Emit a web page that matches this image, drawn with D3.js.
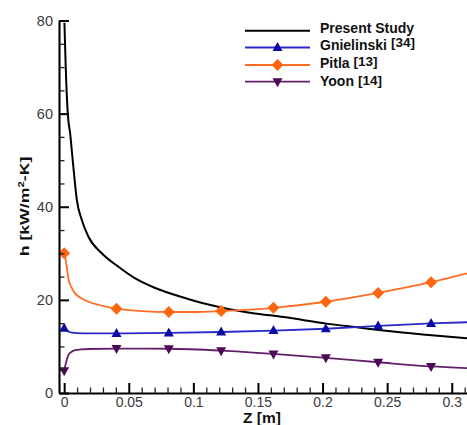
<!DOCTYPE html>
<html>
<head>
<meta charset="utf-8">
<script src="https://cdn.jsdelivr.net/npm/d3@7"></script>
<style>
  html, body { margin: 0; padding: 0; background: #fff; }
  svg { display: block; font-family: "Liberation Sans", Arial, sans-serif; }
</style>
</head>
<body>
<svg id="chart" width="467" height="425"></svg>
<script>
// ---- data ----
const presentZ = [0.0002, 0.0012, 0.0028, 0.0046, 0.0071, 0.0098, 0.0136, 0.0187, 0.0291, 0.042, 0.055, 0.07, 0.0923, 0.11, 0.128, 0.145, 0.17, 0.203, 0.2265, 0.247, 0.28, 0.3118];
const presentH = [79.5, 70, 60, 55.8, 48.6, 41.5, 37.2, 33.6, 30.0, 27.1, 24.6, 22.6, 20.5, 19.1, 18.0, 17.2, 16.3, 14.9, 14.1, 13.4, 12.5, 11.75];

const gnielinskiZ = [0, 0.002, 0.005, 0.01, 0.02, 0.0405, 0.081, 0.1215, 0.162, 0.2025, 0.243, 0.284, 0.3118];
const gnielinskiH = [13.9, 13.4, 13.0, 12.85, 12.8, 12.8, 12.9, 13.1, 13.4, 13.8, 14.4, 14.95, 15.2];

const pitlaZ = [0, 0.001, 0.002, 0.0033, 0.0055, 0.0084, 0.013, 0.0187, 0.027, 0.0405, 0.06, 0.081, 0.1, 0.1215, 0.162, 0.2025, 0.243, 0.284, 0.3118];
const pitlaH = [30, 28.8, 27.1, 24.5, 22.8, 21.4, 20.4, 19.6, 18.9, 18.1, 17.6, 17.4, 17.4, 17.6, 18.3, 19.6, 21.5, 23.8, 25.7];

const yoonZ = [0, 0.001, 0.002, 0.0033, 0.0055, 0.0084, 0.013, 0.019, 0.0405, 0.081, 0.1215, 0.162, 0.2025, 0.243, 0.284, 0.3118];
const yoonH = [4.8, 6.0, 7.1, 8.2, 8.8, 9.2, 9.35, 9.45, 9.55, 9.5, 9.1, 8.4, 7.55, 6.6, 5.7, 5.35];

// marker positions along Z and values at them
const markerZ = [0, 0.0405, 0.081, 0.1215, 0.162, 0.2025, 0.243, 0.284];
const gnielinskiM = [13.9, 12.8, 12.9, 13.1, 13.4, 13.8, 14.4, 14.95];
const pitlaM = [30, 18.1, 17.4, 17.6, 18.3, 19.6, 21.5, 23.8];
const yoonM = [4.8, 9.55, 9.5, 9.1, 8.4, 7.55, 6.6, 5.7];

const xTicks = [0, 0.05, 0.1, 0.15, 0.2, 0.25, 0.3];
const xTickLabels = ["0", "0.05", "0.1", "0.15", "0.2", "0.25", "0.3"];
const xMinorTicks = [0.01, 0.02, 0.03, 0.04, 0.06, 0.07, 0.08, 0.09, 0.11, 0.12, 0.13, 0.14, 0.16, 0.17, 0.18, 0.19, 0.21, 0.22, 0.23, 0.24, 0.26, 0.27, 0.28, 0.29, 0.31];
const yTicks = [0, 20, 40, 60, 80];
const yTickLabels = ["0", "20", "40", "60", "80"];
const yMinorTicks = [5, 10, 15, 25, 30, 35, 45, 50, 55, 65, 70, 75];

const legendNames = ["Present Study", "Gnielinski", "Pitla", "Yoon"];
const legendRefs = ["", "[34]", "[13]", "[14]"];

// ---- drawing ----
const svg = d3.select("#chart");
const pLeft = 59, pRight = 467, pTop = 20.5, pBottom = 393;

const x = d3.scaleLinear().domain([-0.004, 0.3118]).range([pLeft, pRight]);
const y = d3.scaleLinear().domain([0, 80]).range([pBottom, pTop]);

const series = [
  { z: presentZ, h: presentH, line: "#000000", mark: null, shape: null, width: 2 },
  { z: gnielinskiZ, h: gnielinskiH, mz: markerZ, mh: gnielinskiM, line: "#2a2ac8", mark: "#0b0ba6", shape: "up", width: 1.8 },
  { z: pitlaZ, h: pitlaH, mz: markerZ, mh: pitlaM, line: "#ff6d24", mark: "#ff6610", shape: "diamond", width: 1.8 },
  { z: yoonZ, h: yoonH, mz: markerZ, mh: yoonM, line: "#62206a", mark: "#4c0a56", shape: "down", width: 1.8 }
];

function markerPath(shape) {
  if (shape === "up") return "M0,-5.5L5,3.5L-5,3.5Z";
  if (shape === "down") return "M0,5.5L5,-3.5L-5,-3.5Z";
  if (shape === "diamond") return "M0,-6L6,0L0,6L-6,0Z";
  return "";
}

svg.append("defs").append("clipPath").attr("id", "plotclip")
  .append("rect").attr("x", pLeft).attr("y", 0).attr("width", pRight - pLeft).attr("height", pBottom);

const plot = svg.append("g").attr("clip-path", "url(#plotclip)");
const lineGen = d3.line().curve(d3.curveMonotoneX);

series.forEach(s => {
  const pts = s.z.map((z, i) => [x(z), y(s.h[i])]);
  plot.append("path")
    .attr("d", lineGen(pts))
    .attr("fill", "none")
    .attr("stroke", s.line)
    .attr("stroke-width", s.width);
  if (s.shape) {
    svg.append("g").selectAll("path")
      .data(s.mz.map((z, i) => [z, s.mh[i]]))
      .join("path")
      .attr("transform", d => `translate(${x(d[0])},${y(d[1])})`)
      .attr("d", markerPath(s.shape))
      .attr("fill", s.mark);
  }
});

// ---- axes (d3 axis generators, ticks pointing inward) ----
const labelColor = "#3a3a3a";

// minor ticks
svg.append("g").attr("transform", `translate(${pLeft},0)`)
  .call(d3.axisLeft(y).tickValues(yMinorTicks).tickSize(-5.5).tickFormat(""))
  .call(g => g.select(".domain").remove())
  .call(g => g.selectAll(".tick line").attr("stroke", "#222").attr("stroke-width", 1.3));
svg.append("g").attr("transform", `translate(0,${pBottom})`)
  .call(d3.axisBottom(x).tickValues(xMinorTicks).tickSize(-5.5).tickFormat(""))
  .call(g => g.select(".domain").remove())
  .call(g => g.selectAll(".tick line").attr("stroke", "#222").attr("stroke-width", 1.3));

// major ticks + labels
const yAxisG = svg.append("g").attr("transform", `translate(${pLeft},0)`)
  .call(d3.axisLeft(y).tickValues(yTicks).tickSize(-10).tickSizeOuter(0).tickPadding(6)
    .tickFormat((d, i) => yTickLabels[i]));
yAxisG.select(".domain").attr("stroke", "#000").attr("stroke-width", 2.1);
yAxisG.selectAll(".tick line").attr("stroke", "#000").attr("stroke-width", 2);
yAxisG.selectAll(".tick text").attr("font-size", 14.5).attr("fill", labelColor)
  .attr("font-family", "Liberation Sans, Arial, sans-serif").attr("dy", "0.34em");

const xAxisG = svg.append("g").attr("transform", `translate(0,${pBottom})`)
  .call(d3.axisBottom(x).tickValues(xTicks).tickSize(-10).tickSizeOuter(0).tickPadding(4)
    .tickFormat((d, i) => xTickLabels[i]));
xAxisG.select(".domain").attr("stroke", "#000").attr("stroke-width", 2.1);
xAxisG.selectAll(".tick line").attr("stroke", "#000").attr("stroke-width", 2);
xAxisG.selectAll(".tick text").attr("font-size", 14).attr("fill", labelColor)
  .attr("font-family", "Liberation Sans, Arial, sans-serif");

// axis titles
svg.append("text")
  .attr("x", (pLeft + pRight) / 2 - 1).attr("y", 422.8)
  .attr("text-anchor", "middle")
  .attr("font-size", 15.5).attr("font-weight", "bold").attr("fill", "#111")
  .text("Z [m]");

const yt = svg.append("text")
  .attr("transform", "translate(29,206.5) rotate(-90) scale(1.34,1)")
  .attr("text-anchor", "middle")
  .attr("font-size", 13.2).attr("font-weight", "bold").attr("fill", "#111");
yt.append("tspan").text("h [kW/m");
yt.append("tspan").attr("font-size", 8.5).attr("dy", -5).text("2");
yt.append("tspan").attr("dy", 5).text("-K]");

// legend
const legY = [30.7, 47.5, 65, 81.7];
const legBase = [32.5, 50, 67.5, 85.5];
const leg = svg.append("g");
series.forEach((s, i) => {
  leg.append("line").attr("x1", 245).attr("x2", 310)
    .attr("y1", legY[i]).attr("y2", legY[i])
    .attr("stroke", s.line).attr("stroke-width", s.width);
  if (s.shape) {
    leg.append("path").attr("transform", `translate(277.5,${legY[i]})`)
      .attr("d", markerPath(s.shape)).attr("fill", s.mark);
  }
  const t = leg.append("text").attr("x", 320).attr("y", legBase[i])
    .attr("font-size", 14).attr("font-weight", "bold").attr("fill", "#111");
  t.append("tspan").text(legendNames[i]);
  if (legendRefs[i]) {
    const raise = i === 1 ? -3 : (i === 2 ? -2 : -1);
    t.append("tspan").attr("dx", 4).attr("dy", raise).attr("font-size", 13.5).text(legendRefs[i]);
  }
});
</script>
</body>
</html>
